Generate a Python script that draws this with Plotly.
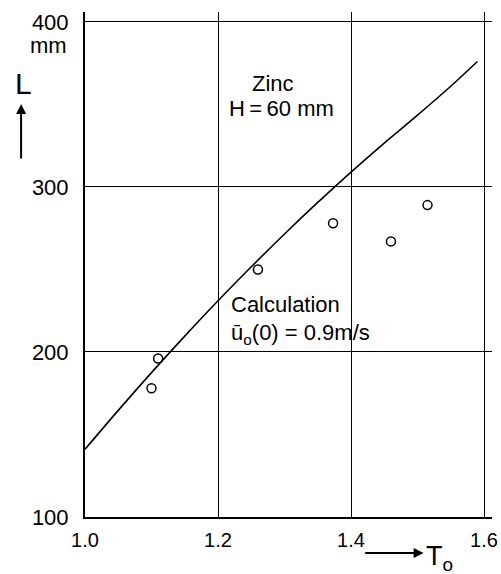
import plotly.graph_objects as go

# Calculation curve (T0 vs L in mm)
calc_T0 = [1.00, 1.05, 1.10, 1.15, 1.20, 1.25, 1.30, 1.35, 1.40, 1.45, 1.50, 1.55, 1.59]
calc_L = [141, 164.6, 187.5, 209.6, 231, 251.6, 271.5, 290.6, 309, 326.6, 343.5, 361, 376]

# Measured points
meas_T0 = [1.10, 1.11, 1.26, 1.373, 1.46, 1.515]
meas_L = [178, 196, 250, 278, 267, 289]

x_ticks = [1.0, 1.2, 1.4, 1.6]
x_tick_labels = ["1.0", "1.2", "1.4", "1.6"]
y_ticks = [100, 200, 300, 400]
y_tick_labels = ["100", "200", "300", "400"]

FONT = "Liberation Sans, Arial, sans-serif"

fig = go.Figure()
fig.add_trace(go.Scatter(x=calc_T0, y=calc_L, mode="lines",
                         line=dict(color="black", width=1.6, shape="spline"),
                         showlegend=False, hoverinfo="skip"))
fig.add_trace(go.Scatter(x=meas_T0, y=meas_L, mode="markers",
                         marker=dict(symbol="circle-open", size=9, color="black",
                                     line=dict(width=1.5, color="black")),
                         showlegend=False))

ann = []
def t(text, x, y, xref="x", yref="y", size=22, xanchor="left", yanchor="middle"):
    ann.append(dict(text=text, x=x, y=y, xref=xref, yref=yref, showarrow=False,
                    xanchor=xanchor, yanchor=yanchor,
                    font=dict(size=size, color="black", family=FONT)))

t("Zinc", 1.2827, 362.4, xanchor="center")
t("H\u2009=\u200960 mm", 1.2135, 347.3)
t("Calculation", 1.216, 229)
t("ū<sub>o</sub>(0) = 0.9m/s", 1.216, 211)
t("mm", -0.04, 0.933, "paper", "paper", size=22, xanchor="right")
t("L", -0.152, 0.859, "paper", "paper", size=30, xanchor="center")
t("T<sub>o</sub>", 0.833, -0.043, "paper", "paper", size=27, xanchor="left", yanchor="top")

# arrows
ann.append(dict(x=-0.157, y=0.818, xref="paper", yref="paper", ax=0, ay=56,
                showarrow=True, arrowhead=2, arrowsize=1, arrowwidth=2,
                arrowcolor="black", text=""))
ann.append(dict(x=0.832, y=-0.0713, xref="paper", yref="paper", ax=-60, ay=0,
                showarrow=True, arrowhead=2, arrowsize=1, arrowwidth=2,
                arrowcolor="black", text=""))

fig.update_layout(
    width=501, height=574,
    margin=dict(l=85, r=9, t=12, b=57, autoexpand=False),
    paper_bgcolor="white", plot_bgcolor="white",
    annotations=ann,
    font=dict(family=FONT, color="black", size=21),
    xaxis=dict(range=[1.0, 1.612], tickvals=x_ticks, ticktext=x_tick_labels,
               showgrid=True, gridcolor="black", gridwidth=1, zeroline=False,
               showline=True, linecolor="black", linewidth=2, ticks="",
               ticklabelstandoff=4, tickfont=dict(size=20, family=FONT)),
    yaxis=dict(range=[100, 406], tickvals=y_ticks, ticktext=y_tick_labels,
               showgrid=True, gridcolor="black", gridwidth=1, zeroline=False,
               showline=True, linecolor="black", linewidth=2, ticks="",
               ticklabelstandoff=10, tickfont=dict(size=22, family=FONT)),
)

# remove the default page margin so the figure fills the window exactly
fig.write_html("out.html",
               config=dict(displayModeBar=False),
               post_script="document.body.style.margin='0';document.body.style.overflow='hidden';")
